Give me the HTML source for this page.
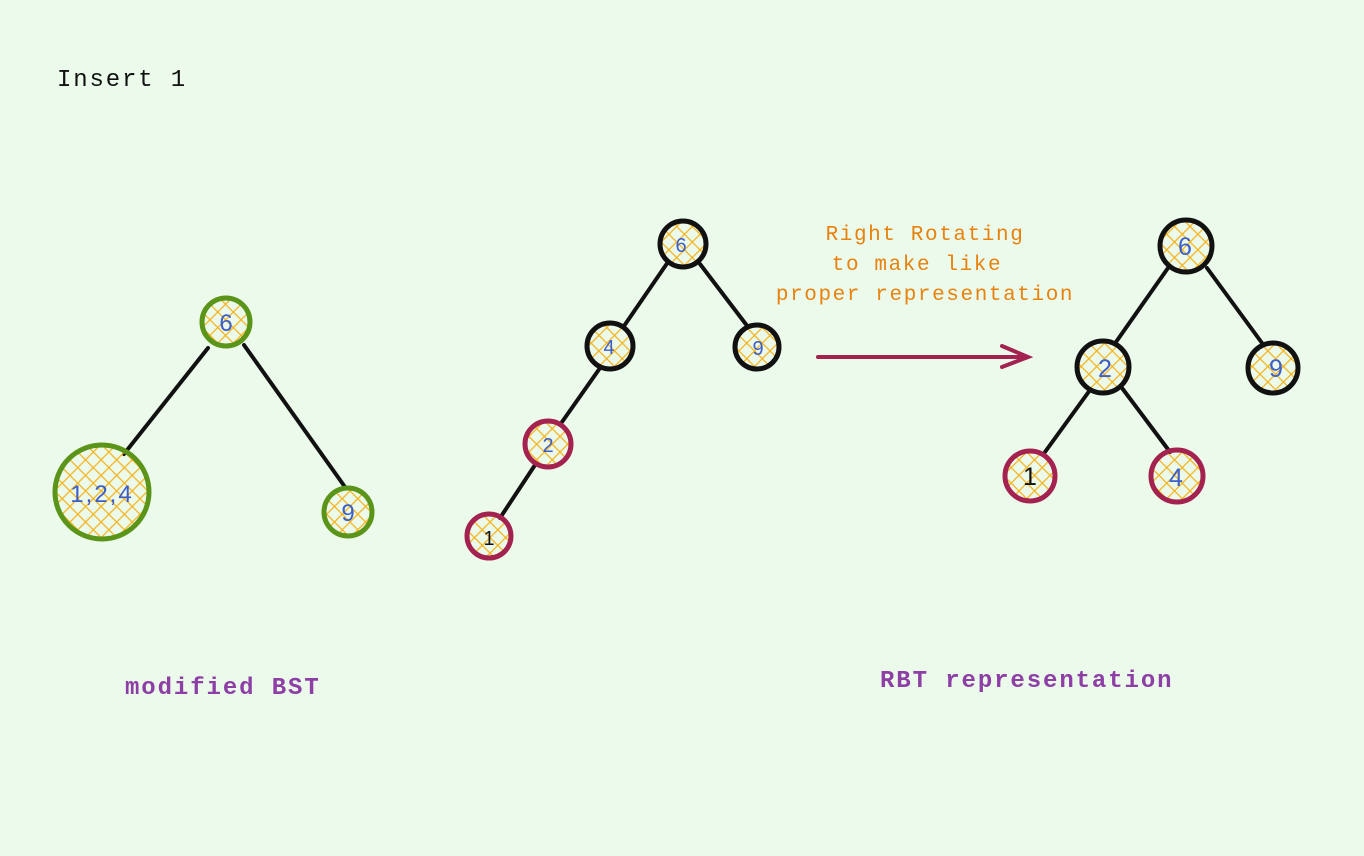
<!DOCTYPE html>
<html><head><meta charset="utf-8"><style>
html,body{margin:0;padding:0;background:#ebfaeb;}
svg{display:block}
</style></head><body>
<svg width="1364" height="856" viewBox="0 0 1364 856" xmlns="http://www.w3.org/2000/svg">
<defs>
<pattern id="h" width="11" height="11" patternUnits="userSpaceOnUse" patternTransform="rotate(45)">
<rect width="11" height="11" fill="none"/>
<line x1="0" y1="0" x2="0" y2="11" stroke="#f5b31b" stroke-width="2.5"/>
<line x1="0" y1="0" x2="11" y2="0" stroke="#f5b31b" stroke-width="2.5"/>
</pattern>
</defs>
<rect width="1364" height="856" fill="#ebfaeb"/>
<g font-family="'Liberation Mono',monospace">
<text x="57" y="86" font-size="24" letter-spacing="1.85" fill="#111">Insert 1</text>
<text x="925" y="240" font-size="21" letter-spacing="1.6" fill="#e8820c" text-anchor="middle">Right Rotating</text>
<text x="917" y="270" font-size="21" letter-spacing="1.6" fill="#e8820c" text-anchor="middle">to make like</text>
<text x="925" y="300" font-size="21" letter-spacing="1.6" fill="#e8820c" text-anchor="middle">proper representation</text>
<text x="125" y="694" font-size="24" letter-spacing="1.9" fill="#8e3fa6" font-weight="bold">modified BST</text>
<text x="880" y="687" font-size="24" letter-spacing="1.9" fill="#8e3fa6" font-weight="bold">RBT representation</text>
</g>
<g stroke="#111" stroke-width="4" stroke-linecap="round">
<line x1="208" y1="348" x2="124" y2="454"/>
<line x1="244" y1="345" x2="345" y2="487"/>
<line x1="668" y1="262" x2="624" y2="326"/>
<line x1="700" y1="264" x2="748" y2="327"/>
<line x1="600" y1="368" x2="562" y2="422"/>
<line x1="535" y1="465" x2="500" y2="518"/>
<line x1="1168" y1="268" x2="1116" y2="342"/>
<line x1="1207" y1="268" x2="1262" y2="343"/>
<line x1="1090" y1="390" x2="1045" y2="452"/>
<line x1="1122" y1="388" x2="1170" y2="452"/>
</g>
<g stroke="#a3224f" stroke-width="4" fill="none" stroke-linecap="round">
<line x1="818" y1="357" x2="1026" y2="357"/>
<polyline points="1002,346 1028,357 1002,367"/>
</g>
<g fill="url(#h)" stroke-width="5">
<circle cx="226" cy="322" r="24" stroke="#5a9418"/>
<circle cx="102" cy="492" r="47" stroke="#5a9418"/>
<circle cx="348" cy="512" r="24" stroke="#5a9418"/>
<circle cx="683" cy="244" r="23" stroke="#111"/>
<circle cx="610" cy="346" r="23" stroke="#111"/>
<circle cx="757" cy="347" r="22" stroke="#111"/>
<circle cx="548" cy="444" r="23" stroke="#a3224f"/>
<circle cx="489" cy="536" r="22" stroke="#a3224f"/>
<circle cx="1186" cy="246" r="26" stroke="#111"/>
<circle cx="1103" cy="367" r="26" stroke="#111"/>
<circle cx="1273" cy="368" r="25" stroke="#111"/>
<circle cx="1030" cy="476" r="25" stroke="#a3224f"/>
<circle cx="1177" cy="476" r="26" stroke="#a3224f"/>
</g>
<g font-family="'Liberation Sans',sans-serif" font-size="24" fill="#3d5fc9" text-anchor="middle">
<text x="226" y="331">6</text>
<text x="102" y="502" letter-spacing="2">1,2,4</text>
<text x="348" y="521">9</text>
<text x="681" y="252" font-size="20">6</text>
<text x="609" y="354" font-size="20">4</text>
<text x="758" y="355" font-size="20">9</text>
<text x="548" y="452" font-size="20">2</text>
<text x="489" y="545" font-size="20" fill="#111">1</text>
<text x="1185" y="255" font-size="25">6</text>
<text x="1105" y="377" font-size="25">2</text>
<text x="1276" y="377" font-size="25">9</text>
<text x="1030" y="485" font-size="25" fill="#111">1</text>
<text x="1176" y="486" font-size="25">4</text>
</g>
</svg>
</body></html>
